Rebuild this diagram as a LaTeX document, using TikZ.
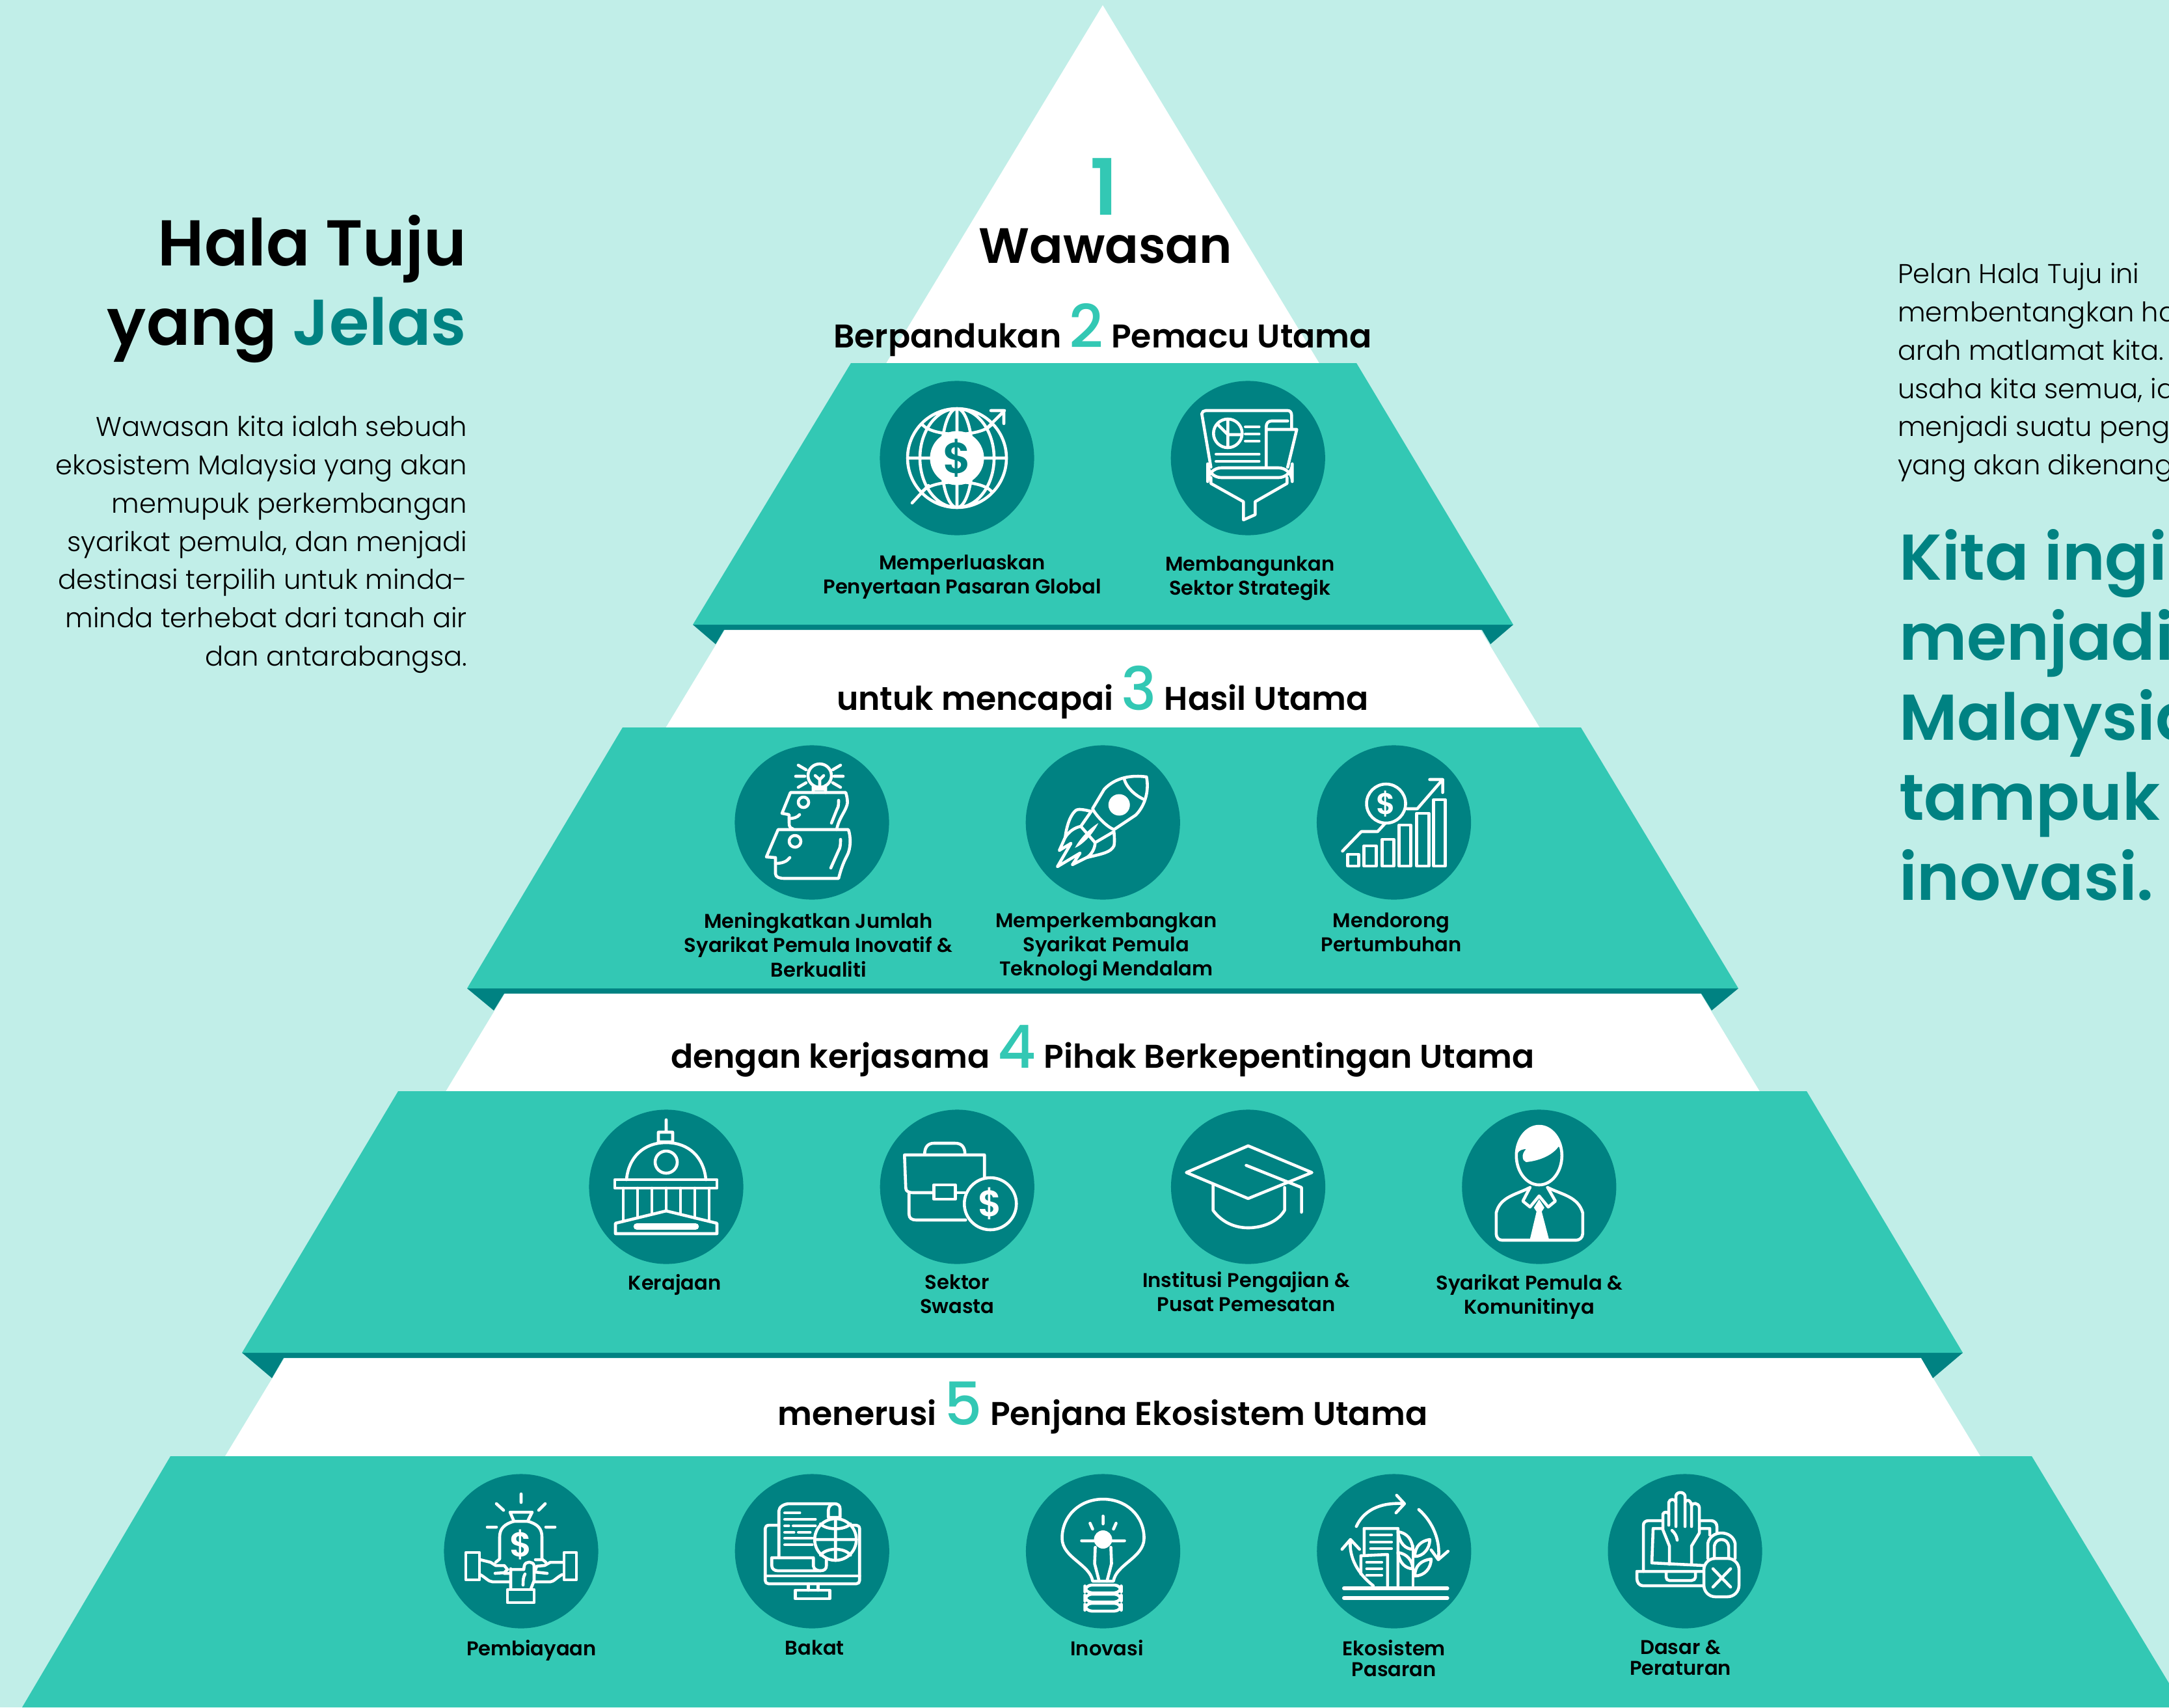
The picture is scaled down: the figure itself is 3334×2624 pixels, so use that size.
\documentclass[tikz,border=0pt]{standalone}
\usepackage{fontspec}
\setmainfont{Poppins}[UprightFont=* Light,BoldFont=* SemiBold]
\newfontfamily\medfont{Poppins Medium}
\usetikzlibrary{positioning,arrows}
\definecolor{bgcol}{HTML}{C1EEE8}
\definecolor{bandcol}{HTML}{33C8B4}
\definecolor{darkcol}{HTML}{008282}
\newcommand{\rowdigit}[1]{{\fontsize{26}{26}\mdseries\medfont\selectfont\color{bandcol}#1}}
\tikzset{
  icon/.style={draw=white,line width=1.3pt,line join=round,line cap=round},
  solid/.style={fill=white,draw=none},
  dollar/.style={font=\fontsize{#1}{#1}\bfseries\selectfont,inner sep=0pt},
  pics/globeicon/.style={code={
    \draw[icon] (0,0) circle (76) (0,0) ellipse (57 and 76) (0,0) ellipse (24 and 76)
      (-76,0) -- (76,0) (0,-76) -- (0,76) (-53,-51) .. controls (-35,-32) and (35,-32) .. (53,-51)
      (-53,51) .. controls (-35,32) and (35,32) .. (53,51);
    \fill[solid] (0,0) circle (41.5);
    \draw[icon] (-69,69) -- (-44,42) (45,-45) -- (73,-73) (52,-73) -- (72,-73) -- (72,-53);
    \node[dollar=19,text=darkcol] (coin) at (0,0) {\$};
  }},
  pics/funnelicon/.style={code={
    \draw[icon] (-57,14) -- (-71,-68) .. controls (-71,-71) and (-68,-73) .. (-65,-73) -- (61,-73) .. controls (65,-73) and (67,-70) .. (67,-66) -- (67,-45);
    \draw[icon] (28,14) -- (28,-48) .. controls (28,-53) and (31,-57) .. (36,-57) -- (61,-57)
      (28,-44) -- (75,-44) -- (61,14);
    \draw[icon,rounded corners=6pt] (-62,15) rectangle (68,30);
    \draw[icon] (-57,30) -- (-57,39) -- (-7,67) -- (-7,95) -- (11,87) -- (11,67) -- (60,39) -- (60,30);
    \draw[icon] (-31,-38) circle (22) (-31,-60) -- (-31,-16) (-46,-51) -- (-31,-36) -- (-9,-36);
    \draw[icon] (-4,-48) -- (17,-48) (-4,-37) -- (17,-37) (-4,-26) -- (17,-26)
      (-49,-6) -- (17,-6) (-49,5) -- (17,5);
  }},
  pics/headsicon/.style={code={
    \draw[icon] (12,-72) circle (18) (2,-57) -- (2,-46) (21,-57) -- (21,-46) (2,-51) -- (21,-51)
      (5,-72) -- (12,-66) -- (18,-72) (12,-66) -- (12,-55)
      (-21,-88) -- (-9,-81) (44,-88) -- (32,-81) (-25,-71) -- (-11,-71) (34,-71) -- (48,-71)
      (-21,-54) -- (-9,-61) (44,-54) -- (32,-61);
    \draw[icon] (-29,10) .. controls (-34,8) and (-35,6) .. (-35,1) -- (-35,-12) -- (-46,-14) -- (-33,-46) -- (52,-46)
      .. controls (55,-36) and (55,-30) .. (54,-27) .. controls (50,-14) and (42,-8) .. (38,11);
    \draw[icon] (-13,-31) circle (8) (-35,-6) .. controls (-28,-6) and (-22,-8) .. (-19,-12)
      (41,-34) .. controls (41,-24) and (40,-22) .. (38,-19) -- (30,1);
    \draw[icon] (-52,11) -- (56,11) .. controls (60,22) and (60,40) .. (54,51) .. controls (48,62) and (44,74) .. (41,86)
      -- (-42,86) .. controls (-50,86) and (-56,84) .. (-56,79) -- (-56,54) -- (-70,53) -- cycle;
    \draw[icon] (-26,29) circle (9) (-56,63) .. controls (-46,63) and (-38,60) .. (-34,54)
      (44,26) .. controls (44,36) and (43,40) .. (41,43) -- (29,70);
  }},
  pics/rocketicon/.style={code={
    \draw[icon] (67,-70) .. controls (45,-73) and (20,-70) .. (2,-51) -- (-16,-21) .. controls (-10,-10) and (5,6) .. (17,11)
      -- (50,-11) .. controls (62,-22) and (72,-45) .. (67,-70);
    \draw[icon] (33,-66) .. controls (36,-55) and (48,-42) .. (64,-35);
    \fill[solid] (25,-27) circle (16.5);
    \draw[icon] (-18,-17) .. controls (-30,-20) and (-38,-21) .. (-41,-19) .. controls (-48,-14) and (-55,0) .. (-58,23) -- (-67,43) -- (-49,32) -- (-70,68) -- (-35,47) -- (-47,65) -- (-25,54);
    \draw[icon] (-18,-17) -- (-34,6) -- (-12,31) -- (17,14) .. controls (18,25) and (18,32) .. (17,36) .. controls (12,46) and (0,48) .. (-25,54)
      (-34,6) .. controls (-44,8) and (-52,14) .. (-58,23) (-12,31) .. controls (-12,40) and (-18,50) .. (-25,54);
    \fill[solid] (-7,1) .. controls (-22,10) and (-36,26) .. (-43,39) .. controls (-34,36) and (-16,20) .. (-7,1) -- cycle;
  }},
  pics/growthicon/.style={code={
    \foreach \lft/\rgt/\tp in {-71/-54/49,-46/-27/36,-18/0/26,8/26/4,35/54/-14,61/79/-35}
      \draw[icon] (\lft,67) rectangle (\rgt,\tp);
    \draw[icon] (-12,-29) circle (30);
    \node[dollar=13,text=white] (coin) at (-12,-29) {\$};
    \draw[icon] (-79,44) -- (-50,14) -- (-25,14) -- (-14,2) (20,-21) -- (36,-21) -- (75,-66)
      (55,-66) -- (75,-66) -- (75,-46);
  }},
  pics/domeicon/.style={code={
    \draw[icon] (0,-103) -- (0,-84) (-12,-84) rectangle (10,-69)
      (-61,-11) .. controls (-58,-45) and (-35,-68) .. (0,-68) .. controls (35,-68) and (58,-45) .. (61,-11);
    \draw[icon] (0,-38) circle (17);
    \draw[icon] (-79,-11) rectangle (78,2);
    \foreach \colx/\colend in {-66/53,-44/48,-22/42,0/37,22/42,44/48,66/53}
      \draw[icon] (\colx,2) -- (\colx,\colend);
    \draw[icon] (0,37) -- (-78,56) -- (-78,72) -- (78,72) -- (78,56) -- cycle;
    \draw[icon,line width=3pt] (-45,61) -- (45,61);
  }},
  pics/caseicon/.style={code={
    \draw[icon] (-50,-50) .. controls (-50,-62) and (-44,-67) .. (-36,-67) -- (-3,-67) .. controls (6,-67) and (12,-62) .. (12,-50);
    \draw[icon] (42,-14) -- (42,-49) -- (-81,-49) -- (-79,2) .. controls (-79,7) and (-74,9) .. (-68,9) -- (-36,9);
    \draw[icon] (-36,-3) rectangle (-3,19) (-3,9) -- (13,9);
    \draw[icon] (-74,11) -- (-74,42) .. controls (-74,48) and (-70,51) .. (-63,51) -- (13,51);
    \draw[icon] (51,26) circle (40);
    \node[dollar=16,text=white] (coin) at (51,26) {\$};
  }},
  pics/capicon/.style={code={
    \draw[icon] (0,-63) -- (98,-22) -- (0,18) -- (-95,-22) -- cycle;
    \draw[icon] (-54,-4) -- (-54,36) .. controls (-40,55) and (-20,63) .. (0,63) .. controls (20,63) and (45,55) .. (56,36) -- (56,1);
    \draw[icon] (-3,-33) -- (82,1) -- (82,39);
  }},
  pics/personicon/.style={code={
    \draw[icon] (0,-48) ellipse (35 and 45);
    \fill[solid] (-35,-48) .. controls (-35,-80) and (-20,-93) .. (0,-93) .. controls (20,-93) and (35,-80) .. (35,-48)
      .. controls (35,-52) and (34,-58) .. (30,-62) .. controls (20,-48) and (0,-40) .. (-20,-38) .. controls (-26,-40) and (-28,-50) .. (-20,-58) .. controls (-30,-58) and (-34,-52) .. (-35,-48) -- cycle;
    \draw[icon] (-14,1) .. controls (-35,12) and (-60,15) .. (-66,40) -- (-66,72) .. controls (-66,78) and (-62,82) .. (-57,82) -- (57,82) .. controls (62,82) and (67,78) .. (67,72) -- (67,40) .. controls (60,15) and (35,12) .. (13,1);
    \draw[icon] (-14,1) -- (-25,22) -- (-14,31) -- (0,14) -- (14,31) -- (25,22) -- (13,1);
    \fill[solid] (0,19) -- (8,32) -- (4,38) -- (15,80) -- (-14,80) -- (-4,38) -- (-8,32) -- cycle;
  }},
  pics/bagicon/.style={code={
    \draw[icon] (0,-88) -- (0,-75) (-38,-73) -- (-27,-63) (37,-73) -- (27,-63) (-52,-37) -- (-38,-37) (38,-37) -- (52,-37);
    \draw[icon] (-11,-46) -- (-17,-60) -- (17,-60) -- (10,-46) -- cycle;
    \draw[icon] (-11,-46) .. controls (-25,-42) and (-33,-35) .. (-33,-22) -- (-33,12) -- (-39,17)
      (10,-46) .. controls (25,-42) and (32,-35) .. (32,-22) -- (32,12) -- (38,17);
    \node[dollar=15,text=white] (coin) at (0,-10) {\$};
    \draw[icon] (-85,2) rectangle (-64,44) (66,2) rectangle (85,44) (-21,59) rectangle (20,79);
    \draw[icon] (-63,13) -- (-47,17) -- (-39,22) -- (-26,22) -- (-21,28) -- (-26,33) -- (-40,34)
      (-26,34) -- (-19,34) (-63,36) .. controls (-55,40) and (-50,47) .. (-44,47) -- (-18,47) (-16,27) -- (-16,58) (-16,28) -- (4,28);
    \draw[icon] (64,17) -- (45,17) -- (36,22) -- (24,23) -- (21,32) -- (40,34) (22,13) -- (33,13)
      (63,36) .. controls (55,40) and (50,47) .. (45,47) -- (20,47);
    \draw[icon] (4,28) -- (5,22) .. controls (7,15) and (18,15) .. (20,22) -- (20,45) -- (15,58) (6,35) .. controls (3,40) and (3,46) .. (3,52);
  }},
  pics/scrollicon/.style={code={
    \draw[icon] (-53,-40) -- (-65,-40) .. controls (-70,-40) and (-72,-38) .. (-72,-35) -- (-72,45) .. controls (-72,48) and (-70,50) .. (-67,50) -- (68,50)
      .. controls (71,50) and (73,48) .. (73,45) -- (73,-35) .. controls (73,-38) and (70,-40) .. (66,-40) -- (59,-40);
    \draw[icon] (-72,38) -- (73,38) (-6,50) -- (-6,60) (9,50) -- (9,60);
    \draw[icon] (-26,60) rectangle (27,73);
    \draw[icon] (-51,10) -- (-51,-62) .. controls (-51,-68) and (-43,-73) .. (-35,-73) -- (34,-73) .. controls (40,-73) and (43,-70) .. (43,-65) -- (43,-52) -- (25,-52) -- (25,-63) .. controls (25,-68) and (29,-73) .. (34,-73);
    \draw[icon] (-62,10) -- (2,10) -- (2,23) .. controls (3,28) and (8,30) .. (13,30) -- (-53,30) .. controls (-58,30) and (-62,27) .. (-62,22) -- cycle;
    \draw[icon] (13,30) .. controls (19,30) and (22,27) .. (22,22) -- (22,12);
    \foreach \rowy/\rowx in {-59/-19,-49/5,-20/0,-10/0}
      \draw[icon] (-42,\rowy) -- (\rowx,\rowy);
    \draw[icon] (-42,-39) -- (-36,-39) (-29,-39) -- (5,-39) (-42,-29) -- (-28,-29) (-21,-29) -- (-3,-29);
    \draw[icon,fill=darkcol] (36,-18) circle (32);
    \draw[icon] (36,-50) -- (36,14) (4,-18) -- (68,-18) (13,-42) .. controls (22,-32) and (50,-32) .. (59,-42) (13,6) .. controls (22,-6) and (50,-6) .. (59,6);
  }},
  pics/bulbicon/.style={code={
    \draw[icon] (-16,46) .. controls (-20,20) and (-63,10) .. (-63,-20) .. controls (-63,-55) and (-35,-80) .. (0,-80) .. controls (35,-80) and (63,-55) .. (63,-20) .. controls (63,10) and (20,20) .. (16,46) -- cycle;
    \fill[solid] (0,-18) circle (14);
    \draw[icon] (-33,-16) -- (33,-16) (0,-54) -- (0,-42) (-20,-43) -- (-16,-34) (20,-43) -- (16,-34)
      (-12,-6) -- (-13,19) -- (-6,46) (12,-6) -- (13,19) -- (6,46);
    \foreach \ringy in {52,66,80}
      \draw[icon,rounded corners=3pt] (-28,\ringy) rectangle (28,\ringy+12);
  }},
  pics/ecosysicon/.style={code={
    \draw[icon] (-58,-38) .. controls (-48,-60) and (-25,-76) .. (16,-73) (4,-86) -- (16,-73) -- (3,-59);
    \draw[icon] (38,-64) .. controls (60,-45) and (72,-15) .. (68,13) (57,-2) -- (68,13) -- (83,0);
    \draw[icon] (-32,53) .. controls (-55,35) and (-70,10) .. (-67,-18) (-80,-3) -- (-67,-18) -- (-53,-3);
    \draw[icon] (-46,3) -- (-46,-35) -- (6,-35) -- (6,53) (-51,7) -- (-10,5) -- (-10,53) (-51,7) -- (-51,35);
    \foreach \wy in {-25,-14,-4}
      \draw[icon] (-36,\wy) -- (-4,\wy);
    \foreach \wy in {17,27,37}
      \draw[icon] (-42,\wy) -- (-19,\wy);
    \draw[icon] (29,-8) -- (29,53);
    \draw[icon] (6,-30) .. controls (20,-28) and (28,-18) .. (29,-3) .. controls (18,-3) and (8,-12) .. (6,-30);
    \draw[icon] (6,2) .. controls (20,4) and (28,14) .. (29,27) .. controls (18,27) and (8,18) .. (6,2);
    \draw[icon] (32,8) .. controls (32,-8) and (42,-16) .. (55,-18) .. controls (55,-4) and (45,8) .. (32,8);
    \draw[icon] (32,38) .. controls (32,22) and (42,14) .. (57,12) .. controls (57,26) and (47,38) .. (32,38);
    \draw[icon,line width=1.6pt] (-77,57) -- (82,57) (-77,72) -- (82,72);
  }},
  pics/lawicon/.style={code={
    \draw[icon] (-35,-47) -- (-56,-47) .. controls (-61,-47) and (-64,-44) .. (-64,-40) -- (-64,31)
      (-35,-35) -- (-49,-35) -- (-51,18) -- (29,22) (22,-47) -- (40,-47) .. controls (45,-47) and (49,-43) .. (49,-38) -- (49,-28)
      (22,-35) -- (38,-35) -- (38,-25);
    \draw[icon] (29,31) -- (-74,31) -- (-74,42) .. controls (-74,48) and (-70,53) .. (-65,53) -- (29,53)
      (-29,33) -- (-29,40) .. controls (-29,43) and (-27,45) .. (-24,45) -- (10,45) .. controls (13,45) and (16,43) .. (16,40) -- (16,33);
    \draw[icon] (-24,20) -- (-24,-8) -- (-34,-33) -- (-34,-57) .. controls (-33,-61) and (-26,-61) .. (-25,-57) -- (-25,-75) .. controls (-24,-81) and (-15,-81) .. (-14,-75)
      -- (-14,-85) .. controls (-13,-92) and (-1,-92) .. (0,-85) -- (0,-75) .. controls (1,-80) and (9,-80) .. (10,-70) .. controls (11,-75) and (21,-75) .. (22,-67) -- (22,-28) -- (10,-8) -- (10,20);
    \draw[icon] (-25,-57) -- (-25,-40) (-14,-75) -- (-14,-38) (0,-75) -- (0,-38) (10,-70) -- (10,-38) (-20,-32) .. controls (-16,-28) and (-13,-24) .. (-12,-17);
    \draw[icon,fill=darkcol,rounded corners=5pt] (29,11) -- (83,11) -- (83,70) -- (29,70) -- cycle;
    \draw[icon] (35,11) -- (35,-12) .. controls (37,-22) and (46,-28) .. (56,-28) .. controls (66,-28) and (75,-22) .. (77,-12) -- (77,11)
      (45,11) -- (45,-8) .. controls (46,-14) and (50,-18) .. (56,-18) .. controls (62,-18) and (66,-14) .. (67,-8) -- (67,11);
    \draw[icon] (43,27) -- (70,55) (70,27) -- (43,55);
  }},
}
\begin{document}
\begin{tikzpicture}[x=0.01cm,y=-0.01cm,
    every node/.style={inner sep=0pt,outer sep=0pt},
    badge/.style={circle,fill=darkcol,minimum size=2.37cm},
    lbl/.style={align=center,font=\fontsize{8.7}{10.6}\bfseries\selectfont},
    lbltight/.style={align=center,font=\fontsize{8.7}{9.1}\bfseries\selectfont},
    rowhead/.style={anchor=base,font=\fontsize{14.35}{16}\bfseries\selectfont},
    bigtitle/.style={font=\fontsize{28.3}{35}\bfseries\selectfont},
    bodytext/.style={font=\fontsize{11.85}{16.75}\selectfont},
  ]
  \fill[bgcol] (0,0) rectangle (3334,2624);
  \useasboundingbox (0,0) rectangle (3334,2624);
  \fill[white] (1695,8) -- (3044,2238) -- (346,2238) -- cycle;
  \foreach \ytop/\ltop/\rtop/\ybot/\lbot/\rbot/\tipx/\tipy/\innerx in {558/1308/2085/960/1065/2326/35/30/48,1118/957/2430/1519/718/2672/41/34/57,1677/612/2777/2079/372/3017/46/39/64}{
    \fill[darkcol] (\lbot,\ybot) -- (\rbot,\ybot) -- (\rbot-\tipx,\ybot+\tipy) -- (\rbot-\innerx,\ybot+8) -- (\lbot+\innerx,\ybot+8) -- (\lbot+\tipx,\ybot+\tipy) -- cycle;
    \fill[bandcol] (\ltop,\ytop) -- (\rtop,\ytop) -- (\rbot,\ybot) -- (\lbot,\ybot) -- cycle;
  }
  \fill[bandcol] (262,2238) -- (3123,2238) -- (3334,2587) -- (3334,2624) -- (34,2624) -- cycle;

  \node[bigtitle,anchor=base east] (halatuju) at (717,408) {Hala Tuju};
  \node[bigtitle,anchor=base east] (jelas) at (717,530) {yang \textcolor{darkcol}{Jelas}};
  \node[bodytext,align=right,anchor=north east] (wawasantext) at (718,639) {Wawasan kita ialah sebuah\\ekosistem Malaysia yang akan\\memupuk perkembangan\\syarikat pemula, dan menjadi\\destinasi terpilih untuk minda-\\minda terhebat dari tanah air\\dan antarabangsa.};
  \node[bodytext,align=left,anchor=north west] (pelan) at (2917,404) {Pelan Hala Tuju ini\\membentangkan ha\\arah matlamat kita.\\usaha kita semua, ia\\menjadi suatu peng\\yang akan dikenang};
  \node[bigtitle,text=darkcol,align=left,anchor=north west] (kita) at (2919,813) {Kita ingi\\menjadi\\Malaysia\\tampuk\\inovasi.};

  \node[anchor=base,text=bandcol,font=\fontsize{34}{34}\bfseries\selectfont] (one) at (1697,330) {1};
  \node[anchor=base,font=\fontsize{21.7}{26}\bfseries\selectfont] (wawasan) at (1699,404) {Wawasan};
  \node[rowhead] (rowtwo) at (1695,534) {Berpandukan \rowdigit{2} Pemacu Utama};
  \node[rowhead] (rowthree) at (1695,1091) {untuk mencapai \rowdigit{3} Hasil Utama};
  \node[rowhead] (rowfour) at (1695,1641) {dengan kerjasama \rowdigit{4} Pihak Berkepentingan Utama};
  \node[rowhead] (rowfive) at (1695,2190) {menerusi \rowdigit{5} Penjana Ekosistem Utama};

  \node[badge] (global) at (1471,704) {};
  \node[badge,right=2.1cm of global] (strategik) {};
  \node[lbl,below=0.30cm of global,xshift=0.08cm] (globallabel) {Memperluaskan\\Penyertaan Pasaran Global};
  \node[lbl,below=0.32cm of strategik,xshift=0.03cm] (strategiklabel) {Membangunkan\\Sektor Strategik};
  \pic at (global) {globeicon};
  \pic at (strategik) {funnelicon};

  \node[badge] (inovatif) at (1248,1264) {};
  \node[badge,right=2.1cm of inovatif] (teknologi) {};
  \node[badge,right=2.1cm of teknologi] (tumbuh) {};
  \node[lbl,below=0.20cm of inovatif,xshift=0.10cm] (inovatiflabel) {Meningkatkan Jumlah\\Syarikat Pemula Inovatif \&\\Berkualiti};
  \node[lbl,below=0.20cm of teknologi,xshift=0.05cm] (teknologilabel) {Memperkembangkan\\Syarikat Pemula\\Teknologi Mendalam};
  \node[lbl,below=0.20cm of tumbuh,xshift=-0.04cm] (tumbuhlabel) {Mendorong\\Pertumbuhan};
  \pic at (inovatif) {headsicon};
  \pic at (teknologi) {rocketicon};
  \pic at (tumbuh) {growthicon};

  \node[badge] (kerajaan) at (1024,1824) {};
  \node[badge,right=2.1cm of kerajaan] (swasta) {};
  \node[badge,right=2.1cm of swasta] (institusi) {};
  \node[badge,right=2.1cm of institusi] (komuniti) {};
  \node[lbl,below=0.16cm of kerajaan,xshift=0.13cm] (kerajaanlabel) {Kerajaan};
  \node[lbl,below=0.16cm of swasta] (swastalabel) {Sektor\\Swasta};
  \node[lbl,below=0.12cm of institusi,xshift=-0.03cm] (institusilabel) {Institusi Pengajian \&\\Pusat Pemesatan};
  \node[lbl,below=0.16cm of komuniti,xshift=-0.15cm] (komunitilabel) {Syarikat Pemula \&\\Komunitinya};
  \pic at (kerajaan) {domeicon};
  \pic at (swasta) {caseicon};
  \pic at (institusi) {capicon};
  \pic at (komuniti) {personicon};

  \node[badge] (biaya) at (801,2384) {};
  \node[badge,right=2.1cm of biaya] (bakat) {};
  \node[badge,right=2.1cm of bakat] (inovasi) {};
  \node[badge,right=2.1cm of inovasi] (pasaran) {};
  \node[badge,right=2.1cm of pasaran] (dasar) {};
  \node[lbltight,below=0.18cm of biaya,xshift=0.16cm] (biayalabel) {Pembiayaan};
  \node[lbltight,below=0.18cm of bakat,xshift=0.04cm] (bakatlabel) {Bakat};
  \node[lbltight,below=0.18cm of inovasi,xshift=0.06cm] (inovasilabel) {Inovasi};
  \node[lbltight,below=0.18cm of pasaran] (pasaranlabel) {Ekosistem\\Pasaran};
  \node[lbltight,below=0.18cm of dasar,xshift=-0.07cm] (dasarlabel) {Dasar \&\\Peraturan};
  \pic at (biaya) {bagicon};
  \pic at (bakat) {scrollicon};
  \pic at (inovasi) {bulbicon};
  \pic at (pasaran) {ecosysicon};
  \pic at (dasar) {lawicon};
\end{tikzpicture}
\end{document}
